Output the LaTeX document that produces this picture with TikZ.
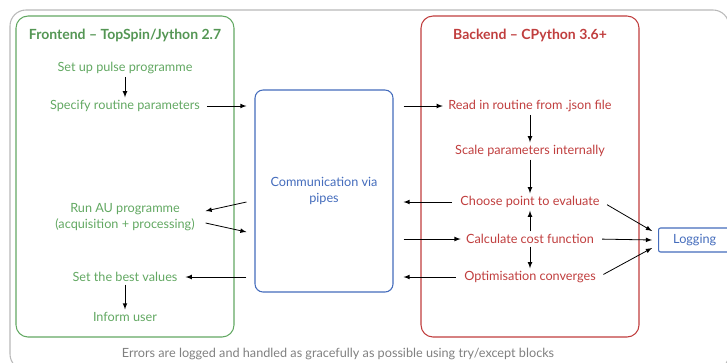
\documentclass[tikz,border=0pt]{standalone}
\usepackage{fontspec}
\setmainfont{Lato}
\usetikzlibrary{arrows,decorations.pathmorphing,positioning}

\definecolor{fgreen}{RGB}{98,168,98}
\definecolor{fgreendark}{RGB}{84,150,84}
\definecolor{bred}{RGB}{192,62,62}
\definecolor{bblue}{RGB}{68,108,188}

\begin{document}
\begin{tikzpicture}[x=0.75pt, y=-0.75pt, font=\fontsize{9.5}{11.5}\selectfont]
		\tikzstyle{Sketch} 	= [line width=0.8pt, rounded corners=9pt]
		\tikzstyle{Task}	= [inner sep=2pt, align=center]
		\tikzstyle{Head}	= [font=\fontsize{10.5}{12}\selectfont\bfseries]
		\tikzstyle{Arrow}	= [-latex, line width=0.6pt, black]

		\useasboundingbox (0,0) rectangle (727,362);

		\draw [Sketch, gray!55, rounded corners=12pt] (10,10) rectangle (729,370);
		\draw [Sketch, fgreen] (16,16) rectangle (234,337);
		\draw [Sketch, bred] (421,16) rectangle (639,337);

		\node (ft) at (125,35) [Head, fgreendark] {Frontend – TopSpin/Jython 2.7};
		\node (f1) at (125,68) [Task, fgreen] {Set up pulse programme};
		\node (f2) at (125,106) [Task, fgreen] {Specify routine parameters};
		\node (f3) at (125,217) [Task, fgreen] {Run AU programme\\(acquisition + processing)};
		\node (f4) at (125,277) [Task, fgreen] {Set the best values};
		\node (f5) at (125,317) [Task, fgreen] {Inform user};

		\node (cp) at (324,191) [draw, Sketch, bblue, rounded corners=6pt, align=center, minimum width=103.5pt, minimum height=151.5pt] {Communication via\\pipes};

		\node (bt) at (530,35) [Head, bred] {Backend – CPython 3.6+};
		\node (b1) at (530,106) [Task, bred] {Read in routine from .json file};
		\node (b2) at (530,151) [Task, bred] {Scale parameters internally};
		\node (b3) at (530,202) [Task, bred] {Choose point to evaluate};
		\node (b4) at (530,239) [Task, bred] {Calculate cost function};
		\node (b5) at (530,277) [Task, bred] {Optimisation converges};

		\node (log) at (658,240) [anchor=west, draw, bblue, line width=0.8pt, rounded corners=1.5pt, minimum height=18pt, text width=48pt, inner xsep=11pt, align=left] {Logging};

		\node (note) at (338,354) [gray] {Errors are logged and handled as gracefully as possible using try/except blocks};

		\draw [Arrow] (f1) to (f2);
		\draw [Arrow, shorten <=3pt, shorten >=6pt] (f2.east) to (f2.east -| cp.west);
		\draw [Arrow] ([shift={(-8,11)}]cp.west) to ([shift={(8,-6)}]f3.east);
		\draw [Arrow] ([shift={(8,6)}]f3.east) to ([shift={(-8,41)}]cp.west);
		\draw [Arrow, shorten <=6pt, shorten >=4pt] (f4.east -| cp.west) to (f4.east);
		\draw [Arrow] (f4) to (f5);

		\draw [Arrow, shorten <=7.5pt, shorten >=2pt] (b1.west -| cp.east) to (b1.west);
		\draw [Arrow] (b1) to (b2);
		\draw [Arrow] (b2) to (b3);
		\draw [Arrow, shorten <=4pt, shorten >=7.5pt] (b3.west) to (b3.west -| cp.east);
		\draw [Arrow, shorten <=7.5pt, shorten >=2pt] (b4.west -| cp.east) to (b4.west);
		\draw [Arrow] (b4) to (b3);
		\draw [Arrow] (b4) to (b5);
		\draw [Arrow, shorten <=4pt, shorten >=7.5pt] (b5.west) to (b5.west -| cp.east);

		\draw [Arrow, shorten <=4pt] (b3.east) to ([shift={(-6,-9)}]log.west);
		\draw [Arrow, shorten <=4pt] (b4.east) to ([shift={(-6,0)}]log.west);
		\draw [Arrow, shorten <=4pt] (b5.east) to ([shift={(-6,8)}]log.west);
	\end{tikzpicture}
\end{document}
